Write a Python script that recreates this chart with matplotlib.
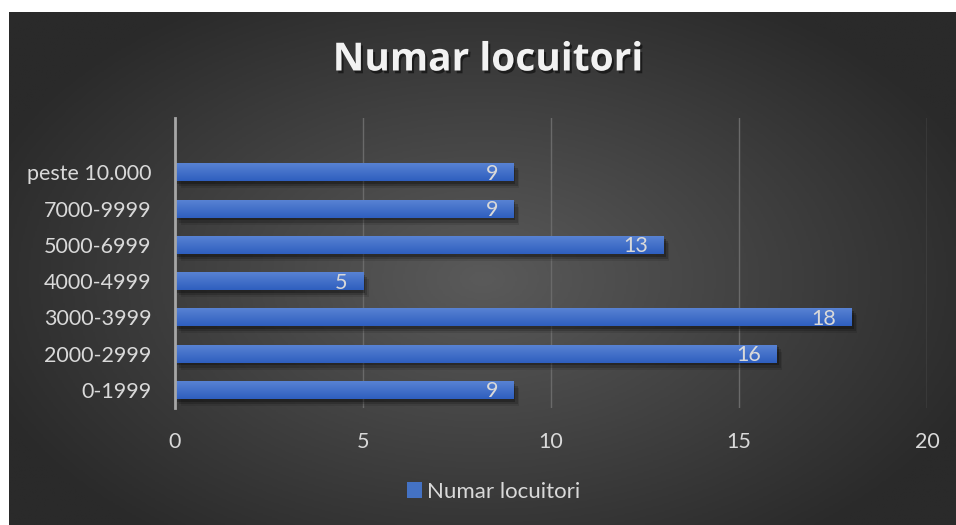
import numpy as np
import matplotlib
matplotlib.use('Agg')
import matplotlib.pyplot as plt
import matplotlib.patheffects as pe
from matplotlib.colors import LinearSegmentedColormap

# Data
categories = ['0-1999', '2000-2999', '3000-3999', '4000-4999',
              '5000-6999', '7000-9999', 'peste 10.000']
values = [9, 16, 18, 5, 13, 9, 9]
series_name = 'Numar locuitori'
x_ticks = [0, 5, 10, 15, 20]

plt.rcParams['font.family'] = ['Lato', 'DejaVu Sans']
text_col = '#d9d9d9'

fig = plt.figure(figsize=(9.56, 5.25), dpi=100, facecolor='white')

# dark radial-gradient background panel
bg = fig.add_axes([9 / 956, 0, 947 / 956, 513 / 525])
bg.set_axis_off()
yy, xx = np.mgrid[0:1:300j, 0:1:500j]
r = np.sqrt(((xx - 0.5) / 0.75) ** 2 + ((yy - 0.48) / 0.85) ** 2)
bg_cmap = LinearSegmentedColormap.from_list('bg', ['#5a5a5a', '#2a2a2a'])
bg.imshow(np.clip(r / 0.75, 0, 1), cmap=bg_cmap, vmin=0, vmax=1,
          aspect='auto', extent=[0, 1, 0, 1], origin='lower')
bg.set_xlim(0, 1)
bg.set_ylim(0, 1)

ax = fig.add_axes([175 / 956, 1 - 408 / 525, (927 - 175) / 956, (408 - 118) / 525])
ax.patch.set_alpha(0)

pos = np.arange(len(categories))
# soft-ish drop shadow under the bars
shadow = [pe.SimplePatchShadow(offset=(1.5, -2), alpha=0.25, shadow_rgbFace='black'),
          pe.SimplePatchShadow(offset=(3, -3.5), alpha=0.18, shadow_rgbFace='black'),
          pe.SimplePatchShadow(offset=(4, -5), alpha=0.1, shadow_rgbFace='black'),
          pe.Normal()]
bars = ax.barh(pos, values, height=0.5, color='#4472c4', zorder=3, path_effects=shadow)

# vertical gradient inside each bar
bar_cmap = LinearSegmentedColormap.from_list('bar', ['#2f5fbf', '#5a84d4'])
grad = np.linspace(0, 1, 50).reshape(-1, 1)
for b in bars:
    im = ax.imshow(grad, cmap=bar_cmap, aspect='auto', origin='lower', zorder=4,
                   extent=[b.get_x(), b.get_x() + b.get_width(),
                           b.get_y(), b.get_y() + b.get_height()])
    im.set_clip_path(b)

# value labels at the inner end of each bar
for p, v in zip(pos, values):
    ax.annotate(str(v), xy=(v, p), xytext=(-11, -1), textcoords='offset points',
                ha='right', va='center', color=text_col, fontsize=15.5, zorder=5)

ax.set_xlim(0, 20)
ax.set_ylim(-0.5, 7.5)
ax.set_xticks(x_ticks)
ax.set_yticks(pos)
ax.set_yticklabels(categories)
ax.grid(axis='x', color='#6a6a6a', linewidth=1, zorder=0)
ax.set_axisbelow(True)
for s in ['top', 'right', 'bottom']:
    ax.spines[s].set_visible(False)
ax.spines['left'].set_color('#a6a6a6')
ax.spines['left'].set_linewidth(2)
ax.spines['left'].set_zorder(6)
ax.tick_params(axis='both', length=0, colors=text_col, labelsize=15.5)
ax.tick_params(axis='x', pad=17)
ax.tick_params(axis='y', pad=17)

fig.text(0.51, 1 - 60 / 525, 'Numar locuitori', ha='center', va='center',
         fontsize=28, fontweight='bold', color='#f2f2f2', family=['Open Sans', 'DejaVu Sans'],
         path_effects=[pe.withSimplePatchShadow(offset=(1.5, -2), alpha=0.5, shadow_rgbFace='black')])

leg = fig.legend(handles=[plt.Rectangle((0, 0), 1, 1, facecolor='#4472c4')],
                 labels=[series_name], loc='center', bbox_to_anchor=(0.516, 0.063),
                 frameon=False, fontsize=16, handlelength=0.7, handleheight=0.7,
                 handletextpad=0.2)
for t in leg.get_texts():
    t.set_color(text_col)

fig.savefig('out.png', dpi=100, facecolor='white')
